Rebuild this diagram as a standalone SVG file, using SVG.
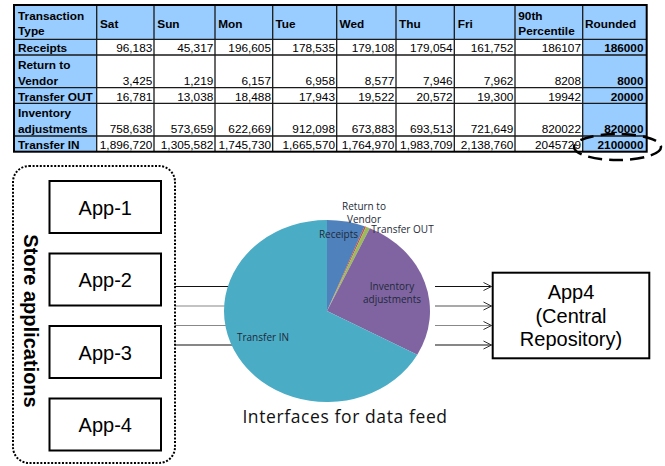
<svg xmlns="http://www.w3.org/2000/svg" width="665" height="466" viewBox="0 0 665 466">
  <defs>
    <style>
      .cell-h { fill: #99ccff; }
      .cell-w { fill: #ffffff; }
      .grid { stroke: #1a1a1a; stroke-width: 1.3; fill: none; }
      .frame { stroke: #000; stroke-width: 2; fill: none; }
      .tb { font-family: "Liberation Sans", Arial, sans-serif; font-size: 11.8px; fill: #000; }
      .b { font-weight: bold; }
      .num { text-anchor: end; }
      .box { fill: #fff; stroke: #000; stroke-width: 2; }
      .app { font-family: "Liberation Sans", Arial, sans-serif; font-size: 20px; fill: #000; text-anchor: middle; }
      .plabel { font-family: "Open Sans", "Noto Sans", sans-serif; font-size: 10px; fill: #1e2a38; text-anchor: middle; }
      .feed { stroke-width: 1.1; fill: none; }
    </style>
    <marker id="open-arrow" markerWidth="10" markerHeight="10" refX="9" refY="5" orient="auto" markerUnits="userSpaceOnUse">
      <path d="M1,1 L9,5 L1,9" fill="none" stroke="#333" stroke-width="1"/>
    </marker>
  </defs>

  <rect width="665" height="466" fill="#ffffff"/>

  <!-- Volume table -->
  <g id="table">
    <!-- fills -->
    <rect class="cell-w" x="14" y="5" width="632.7" height="146.7"/>
    <rect class="cell-h" x="14" y="5" width="632.7" height="34.3"/>
    <rect class="cell-h" x="14" y="5" width="82.7" height="146.7"/>
    <rect class="cell-h" x="582.7" y="5" width="64" height="146.7"/>

    <!-- grid -->
    <g class="grid">
      <path d="M96.7,5V151.7 M154,5V151.7 M215,5V151.7 M272.7,5V151.7 M336.7,5V151.7 M396,5V151.7 M454.3,5V151.7 M515,5V151.7 M582.7,5V151.7"/>
      <path d="M14,39.3H646.7 M14,55H646.7 M14,87.7H646.7 M14,103.3H646.7 M14,136H646.7"/>
    </g>
    <rect class="frame" x="14" y="5" width="632.7" height="146.7"/>

    <!-- header row -->
    <g class="tb b">
      <text x="18" y="20.3">Transaction</text>
      <text x="18" y="34.8">Type</text>
      <text x="100" y="28.3">Sat</text>
      <text x="157.3" y="28.3">Sun</text>
      <text x="218.3" y="28.3">Mon</text>
      <text x="275.5" y="28.3">Tue</text>
      <text x="339.5" y="28.3">Wed</text>
      <text x="399" y="28.3">Thu</text>
      <text x="457.7" y="28.3">Fri</text>
      <text x="518.3" y="20.3">90th</text>
      <text x="518.3" y="34.8">Percentile</text>
      <text x="585" y="28.3">Rounded</text>
    </g>

    <!-- row labels -->
    <g class="tb b">
      <text x="18" y="52">Receipts</text>
      <text x="18" y="68.8">Return to</text>
      <text x="18" y="84.5">Vendor</text>
      <text x="18" y="100.5">Transfer OUT</text>
      <text x="18" y="116.5">Inventory</text>
      <text x="18" y="133">adjustments</text>
      <text x="18" y="148.7">Transfer IN</text>
    </g>

    <!-- daily values -->
    <g class="tb num">
      <text x="152.3" y="52">96,183</text>
      <text x="213.3" y="52">45,317</text>
      <text x="271" y="52">196,605</text>
      <text x="335" y="52">178,535</text>
      <text x="394.3" y="52">179,108</text>
      <text x="452.6" y="52">179,054</text>
      <text x="513.3" y="52">161,752</text>
      <text x="581" y="52">186107</text>

      <text x="152.3" y="84.5">3,425</text>
      <text x="213.3" y="84.5">1,219</text>
      <text x="271" y="84.5">6,157</text>
      <text x="335" y="84.5">6,958</text>
      <text x="394.3" y="84.5">8,577</text>
      <text x="452.6" y="84.5">7,946</text>
      <text x="513.3" y="84.5">7,962</text>
      <text x="581" y="84.5">8208</text>

      <text x="152.3" y="100.5">16,781</text>
      <text x="213.3" y="100.5">13,038</text>
      <text x="271" y="100.5">18,488</text>
      <text x="335" y="100.5">17,943</text>
      <text x="394.3" y="100.5">19,522</text>
      <text x="452.6" y="100.5">20,572</text>
      <text x="513.3" y="100.5">19,300</text>
      <text x="581" y="100.5">19942</text>

      <text x="152.3" y="133">758,638</text>
      <text x="213.3" y="133">573,659</text>
      <text x="271" y="133">622,669</text>
      <text x="335" y="133">912,098</text>
      <text x="394.3" y="133">673,883</text>
      <text x="452.6" y="133">693,513</text>
      <text x="513.3" y="133">721,649</text>
      <text x="581" y="133">820022</text>

      <text x="152.3" y="148.7">1,896,720</text>
      <text x="213.3" y="148.7">1,305,582</text>
      <text x="271" y="148.7">1,745,730</text>
      <text x="335" y="148.7">1,665,570</text>
      <text x="394.3" y="148.7">1,764,970</text>
      <text x="452.6" y="148.7">1,983,709</text>
      <text x="513.3" y="148.7">2,138,760</text>
      <text x="581" y="148.7">2045729</text>
    </g>

    <!-- rounded values -->
    <g class="tb b num">
      <text x="643.5" y="52">186000</text>
      <text x="643.5" y="84.5">8000</text>
      <text x="643.5" y="100.5">20000</text>
      <text x="643.5" y="133">820000</text>
      <text x="643.5" y="148.7">2100000</text>
    </g>

    <!-- highlight on the largest rounded value -->
    <ellipse cx="617.5" cy="147" rx="43.5" ry="13" fill="none" stroke="#000" stroke-width="2.5" stroke-dasharray="14 7"/>
  </g>

  <!-- Connectors -->
  <g id="connectors">
    <line class="feed" x1="175" y1="286.5" x2="232" y2="286.5" stroke="#111"/>
    <line class="feed" x1="175" y1="306" x2="232" y2="306" stroke="#888"/>
    <line class="feed" x1="175" y1="325.5" x2="232" y2="325.5" stroke="#888"/>
    <line class="feed" x1="175" y1="345" x2="232" y2="345" stroke="#111"/>

    <line class="feed" x1="435" y1="286.5" x2="491.5" y2="286.5" stroke="#111" marker-end="url(#open-arrow)"/>
    <line class="feed" x1="435" y1="306" x2="491.5" y2="306" stroke="#555" marker-end="url(#open-arrow)"/>
    <line class="feed" x1="435" y1="325.5" x2="491.5" y2="325.5" stroke="#888" marker-end="url(#open-arrow)"/>
    <line class="feed" x1="435" y1="345" x2="491.5" y2="345" stroke="#111" marker-end="url(#open-arrow)"/>
  </g>

  <!-- Store applications container -->
  <g id="store-applications">
    <rect x="13" y="166" width="162" height="297" rx="16" ry="16" fill="none" stroke="#000" stroke-width="2" stroke-dasharray="2 1.6"/>
    <text transform="translate(24,321) rotate(90)" font-family="'Liberation Sans', Arial, sans-serif" font-size="20" font-weight="bold" text-anchor="middle" fill="#000">Store applications</text>
  </g>

  <g id="app-1">
    <rect class="box" x="49.5" y="181" width="111.5" height="52"/>
    <text class="app" x="105.3" y="214.5">App-1</text>
  </g>
  <g id="app-2">
    <rect class="box" x="49.5" y="253.5" width="111.5" height="52"/>
    <text class="app" x="105.3" y="287">App-2</text>
  </g>
  <g id="app-3">
    <rect class="box" x="49.5" y="326" width="111.5" height="52"/>
    <text class="app" x="105.3" y="359.5">App-3</text>
  </g>
  <g id="app-4">
    <rect class="box" x="49.5" y="398.5" width="111.5" height="52"/>
    <text class="app" x="105.3" y="432">App-4</text>
  </g>

  <!-- Share of volume by transaction type -->
  <g id="pie">
    <path d="M327,311 L327,220 A103,91 0 0 1 364.52,226.25 Z" fill="#4f81bd"/>
    <path d="M327,311 L364.52,226.25 A103,91 0 0 1 366.06,226.80 Z" fill="#c0504d"/>
    <path d="M327,311 L366.06,226.80 A103,91 0 0 1 369.85,228.25 Z" fill="#9bbb59"/>
    <path d="M327,311 L369.85,228.25 A103,91 0 0 1 417.28,354.81 Z" fill="#8064a2"/>
    <path d="M327,311 L417.28,354.81 A103,91 0 1 1 327,220 Z" fill="#4bacc6"/>

    <text class="plabel" x="364" y="210">Return to</text>
    <text class="plabel" x="364" y="223">Vendor</text>
    <text class="plabel" x="338.5" y="237.5">Receipts</text>
    <text class="plabel" x="402.5" y="233.3">Transfer OUT</text>
    <text class="plabel" x="392" y="289.5">Inventory</text>
    <text class="plabel" x="392" y="302.8">adjustments</text>
    <text class="plabel" x="263" y="341">Transfer IN</text>

    <text x="345" y="423.3" font-family="'Open Sans', 'Noto Sans', sans-serif" font-size="17.5" letter-spacing="0.6" text-anchor="middle" fill="#111">Interfaces for data feed</text>
  </g>

  <!-- Central repository -->
  <g id="app4-central">
    <rect class="box" x="492.7" y="272.7" width="156.6" height="85.6"/>
    <text class="app" x="571" y="298.5">App4</text>
    <text class="app" x="571" y="322.5">(Central</text>
    <text class="app" x="571" y="346">Repository)</text>
  </g>
</svg>
